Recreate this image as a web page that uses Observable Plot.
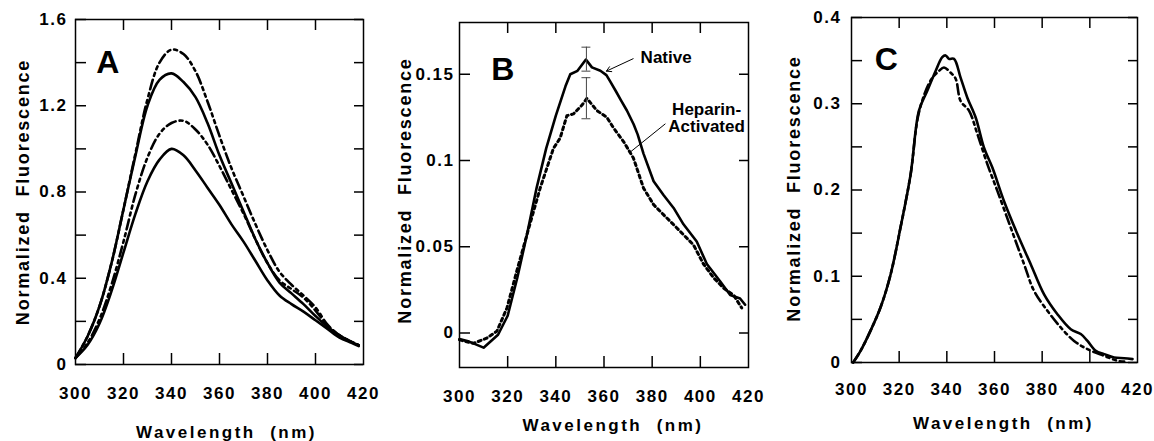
<!DOCTYPE html>
<html><head><meta charset="utf-8">
<script src="https://cdn.jsdelivr.net/npm/d3@7"></script>
<script src="https://cdn.jsdelivr.net/npm/@observablehq/plot@0.6"></script>
<style>
html,body{margin:0;padding:0;background:#fff;}
#chart{position:relative;width:1154px;height:441px;overflow:hidden;background:#fff;}
#chart svg{position:absolute;top:0;overflow:visible;}
</style></head>
<body><div id="chart"></div>
<script>
// ---------- shared axis values ----------
const xTickLabels = [300, 320, 340, 360, 380, 400, 420];
const xInnerTicks = [320, 340, 360, 380, 400];
const xTitle = "Wavelength\u00a0\u00a0(nm)";
const yTitle = "Normalized\u00a0\u00a0Fluorescence";

// ---------- Panel A ----------
const aWavelength = [300,305,310,315,320,325,330,335,340,345,350,355,360,365,370,375,380,385,390,395,400,405,410,415,418];
const aDashHigh  = [0.03,0.13,0.27,0.47,0.72,0.98,1.23,1.40,1.46,1.44,1.36,1.22,1.06,0.91,0.78,0.65,0.53,0.43,0.37,0.32,0.265,0.185,0.135,0.105,0.09];
const aSolidHigh = [0.03,0.13,0.27,0.47,0.72,0.97,1.20,1.32,1.35,1.31,1.24,1.12,0.97,0.84,0.71,0.58,0.47,0.38,0.33,0.28,0.225,0.175,0.135,0.105,0.09];
const aDashLow   = [0.03,0.10,0.21,0.37,0.57,0.79,0.96,1.07,1.12,1.13,1.09,1.02,0.92,0.81,0.70,0.58,0.47,0.39,0.35,0.31,0.25,0.18,0.135,0.105,0.09];
const aSolidLow  = [0.03,0.09,0.19,0.34,0.52,0.70,0.85,0.95,1.00,0.97,0.90,0.82,0.74,0.65,0.57,0.48,0.39,0.32,0.28,0.245,0.205,0.165,0.125,0.10,0.085];
const aYTicks = [0,0.2,0.4,0.6,0.8,1.0,1.2,1.4,1.6];
const aYLabels = [0,0.4,0.8,1.2,1.6];

// ---------- Panel B ----------
const bNativeWl = [300,304,310,316,320,324,328,332,336,340,344,346,349,352.5,355,358.5,361,362.5,365,367,369.5,372.3,374,376.4,380.6,384.7,388.9,393,398.5,402.7,408.2,412.4,416.5,418.6];
const bNative   = [-0.0035,-0.005,-0.0085,-0.001,0.010,0.032,0.057,0.084,0.107,0.126,0.143,0.150,0.152,0.1585,0.154,0.152,0.1495,0.146,0.140,0.135,0.129,0.121,0.115,0.104,0.088,0.080,0.0725,0.063,0.053,0.040,0.030,0.022,0.020,0.0164];
const bHeparinWl = [300,305.8,311.3,315.5,319.7,323.8,328,333.5,339,341.8,344.6,347.3,350.8,352.9,357,361.2,363.9,368.1,372.2,376.4,380.6,384.7,388.9,393,397.2,401.3,405.5,409.7,413.8,417.2];
const bHeparin   = [-0.004,-0.006,-0.003,0.001,0.0145,0.036,0.057,0.084,0.107,0.113,0.126,0.127,0.132,0.136,0.129,0.125,0.119,0.111,0.1015,0.084,0.0744,0.0686,0.0628,0.057,0.051,0.040,0.032,0.026,0.022,0.0145];
const bErrX    = [352.7, 352.7];
const bErrLow  = [0.1518, 0.1242];
const bErrHigh = [0.1657, 0.148];
const bYTicks = [0,0.05,0.1,0.15];
const bYLabels = [0,0.05,0.1,0.15];

// ---------- Panel C ----------
const cSolidWl = [300.7,303.8,308,312.2,316.4,320.6,324.8,328.3,331.8,335.3,338.1,339.5,340.9,343,345.8,348.6,352.1,355.6,359.1,364,369.6,375.2,380.8,386.4,392,396.2,399,402.5,406,410.2,414.4,417.9];
const cSolid   = [0,0.0135,0.037,0.064,0.102,0.157,0.218,0.292,0.315,0.338,0.354,0.356,0.352,0.352,0.330,0.307,0.284,0.249,0.226,0.187,0.149,0.114,0.079,0.056,0.0386,0.033,0.025,0.0135,0.0097,0.0058,0.005,0.0039];
const cDashWl = [300.7,303.8,308,312.2,316.4,320.6,324.8,328.3,333.2,336.7,338.8,341.6,343.7,345.8,349.3,352.8,357,361.2,366.8,372.4,376.6,382.2,387.8,393.4,399,406,411.6,414.4];
const cDash   = [0,0.0135,0.037,0.064,0.102,0.157,0.218,0.29,0.327,0.338,0.342,0.336,0.329,0.303,0.292,0.265,0.23,0.199,0.1565,0.114,0.083,0.06,0.0406,0.025,0.0155,0.0077,0.002,0.001];
const cYTicks = [0,0.05,0.1,0.15,0.2,0.25,0.3,0.35,0.4];
const cYLabels = [0,0.1,0.2,0.3,0.4];

const rows = (xs, ys) => xs.map((x, i) => ({x, y: ys[i]}));
const FONT = "'Liberation Sans', Arial, Helvetica, sans-serif";
const DASHDOT = "10,4,3,4,3,4";

function panel(cfg) {
  const H = 441;
  const innerW = cfg.width - cfg.marginLeft - cfg.marginRight;
  const innerH = H - cfg.marginTop - cfg.marginBottom;
  const marks = [
    Plot.frame({strokeWidth: 1.5}),
    Plot.tickX(xInnerTicks, {x: d => d, insetTop: innerH - 11, strokeWidth: 1.5}),
    Plot.tickX(xInnerTicks, {x: d => d, insetBottom: innerH - 11, strokeWidth: 1.5}),
    Plot.tickY(cfg.yTicks, {y: d => d, insetRight: innerW - 11, strokeWidth: 1.5}),
    Plot.tickY(cfg.yTicks, {y: d => d, insetLeft: innerW - 9, strokeWidth: 1.5}),
    Plot.axisX({ticks: xTickLabels, tickSize: 0, tickPadding: cfg.xPad, tickFormat: d => String(d), fontSize: 17, fontWeight: "bold", label: null}),
    Plot.axisY({ticks: cfg.yLabels, tickSize: 0, tickPadding: cfg.yPad, tickFormat: d => String(d), fontSize: 17, fontWeight: "bold", label: null}),
    Plot.text([xTitle], {frameAnchor: "bottom", text: d => d, textAnchor: "middle", dx: cfg.xTitleDx, dy: cfg.xTitleDy, lineAnchor: "bottom", fontSize: 17, fontWeight: "bold"}),
    Plot.text([yTitle], {frameAnchor: "left", text: d => d, textAnchor: "middle", rotate: -90, dx: cfg.yTitleDx, dy: cfg.yTitleDy, lineAnchor: "bottom", fontSize: 18, fontWeight: "bold"}),
    ...cfg.marks
  ];
  const svg = Plot.plot({
    width: cfg.width, height: H,
    marginLeft: cfg.marginLeft, marginRight: cfg.marginRight,
    marginTop: cfg.marginTop, marginBottom: cfg.marginBottom,
    x: {domain: [300, 420], label: null},
    y: {domain: cfg.yDomain, label: null},
    style: {fontFamily: FONT, background: "white", color: "black"},
    marks
  });
  svg.style.left = cfg.left + "px";
  // letter spacing like the original typesetting
  d3.select(svg).selectAll("text").each(function() {
    const t = this.textContent;
    if (t === xTitle) this.style.letterSpacing = "2.5px";
    else if (t === yTitle) this.style.letterSpacing = "1.8px";
    else if (/^[0-9.]+$/.test(t)) this.style.letterSpacing = "1.5px";
  });
  document.getElementById("chart").appendChild(svg);
}

// Panel A
panel({
  left: 0, width: 380, marginLeft: 75, marginRight: 17, marginTop: 19, marginBottom: 77,
  yDomain: [0, 1.6], yTicks: aYTicks, yLabels: aYLabels,
  xPad: 22, yPad: 8, xTitleDx: 7, xTitleDy: 73, yTitleDx: -47, yTitleDy: 0,
  marks: [
    Plot.line(rows(aWavelength, aSolidLow), {x: "x", y: "y", curve: "catmull-rom", strokeWidth: 2.6}),
    Plot.line(rows(aWavelength, aSolidHigh), {x: "x", y: "y", curve: "catmull-rom", strokeWidth: 2.6}),
    Plot.line(rows(aWavelength, aDashLow), {x: "x", y: "y", curve: "catmull-rom", strokeWidth: 2.6, strokeDasharray: DASHDOT}),
    Plot.line(rows(aWavelength, aDashHigh), {x: "x", y: "y", curve: "catmull-rom", strokeWidth: 2.6, strokeDasharray: DASHDOT}),
    Plot.text(["A"], {x: 308.6, y: 1.35, text: d => d, textAnchor: "start", lineAnchor: "bottom", fontSize: 32, fontWeight: "bold"})
  ]
});

// Panel B
const bErr = bErrX.map((x, i) => ({x, lo: bErrLow[i], hi: bErrHigh[i]}));
panel({
  left: 385, width: 380, marginLeft: 74, marginRight: 17, marginTop: 22, marginBottom: 74,
  yDomain: [-0.02, 0.18], yTicks: bYTicks, yLabels: bYLabels,
  xPad: 22, yPad: 5, xTitleDx: 9, xTitleDy: 63, yTitleDx: -49, yTitleDy: -4.5,
  marks: [
    Plot.line(rows(bNativeWl, bNative), {x: "x", y: "y", strokeWidth: 2.6, strokeLinejoin: "round"}),
    Plot.line(rows(bHeparinWl, bHeparin), {x: "x", y: "y", strokeWidth: 3, strokeDasharray: "3,3.5"}),
    Plot.ruleX(bErr, {x: "x", y1: "lo", y2: "hi", stroke: "#444", strokeWidth: 1}),
    Plot.ruleY(bErr, {y: "lo", x1: d => d.x - 1.85, x2: d => d.x + 1.85, stroke: "#444", strokeWidth: 1}),
    Plot.ruleY(bErr, {y: "hi", x1: d => d.x - 1.85, x2: d => d.x + 1.85, stroke: "#444", strokeWidth: 1}),
    Plot.text(["B"], {x: 313.2, y: 0.1464, text: d => d, textAnchor: "start", lineAnchor: "bottom", fontSize: 32, fontWeight: "bold"}),
    Plot.text(["Native"], {x: 385.8, y: 0.1564, text: d => d, textAnchor: "middle", lineAnchor: "bottom", fontSize: 17, fontWeight: "bold"}),
    Plot.arrow([{x1: 372.1, y1: 0.159, x2: 361.0, y2: 0.1518}], {x1: "x1", y1: "y1", x2: "x2", y2: "y2", strokeWidth: 1, headLength: 8}),
    Plot.text(["Heparin-\nActivated"], {x: 402.6, y: 0.1164, text: d => d, textAnchor: "middle", lineAnchor: "bottom", lineHeight: 1, fontSize: 17, fontWeight: "bold"}),
    Plot.link([{x1: 385.5, y1: 0.1213, x2: 371.0, y2: 0.105}], {x1: "x1", y1: "y1", x2: "x2", y2: "y2", strokeWidth: 1})
  ]
});

// Panel C
panel({
  left: 770, width: 384, marginLeft: 81, marginRight: 17, marginTop: 17, marginBottom: 79,
  yDomain: [0, 0.4], yTicks: cYTicks, yLabels: cYLabels,
  xPad: 20, yPad: 10, xTitleDx: 9, xTitleDy: 66, yTitleDx: -52, yTitleDy: -1.5,
  marks: [
    Plot.line(rows(cSolidWl, cSolid), {x: "x", y: "y", curve: "catmull-rom", strokeWidth: 2.6}),
    Plot.line(rows(cDashWl, cDash), {x: "x", y: "y", curve: "catmull-rom", strokeWidth: 2.6, strokeDasharray: DASHDOT}),
    Plot.text(["C"], {x: 309.8, y: 0.3386, text: d => d, textAnchor: "start", lineAnchor: "bottom", fontSize: 32, fontWeight: "bold"})
  ]
});
</script></body></html>
